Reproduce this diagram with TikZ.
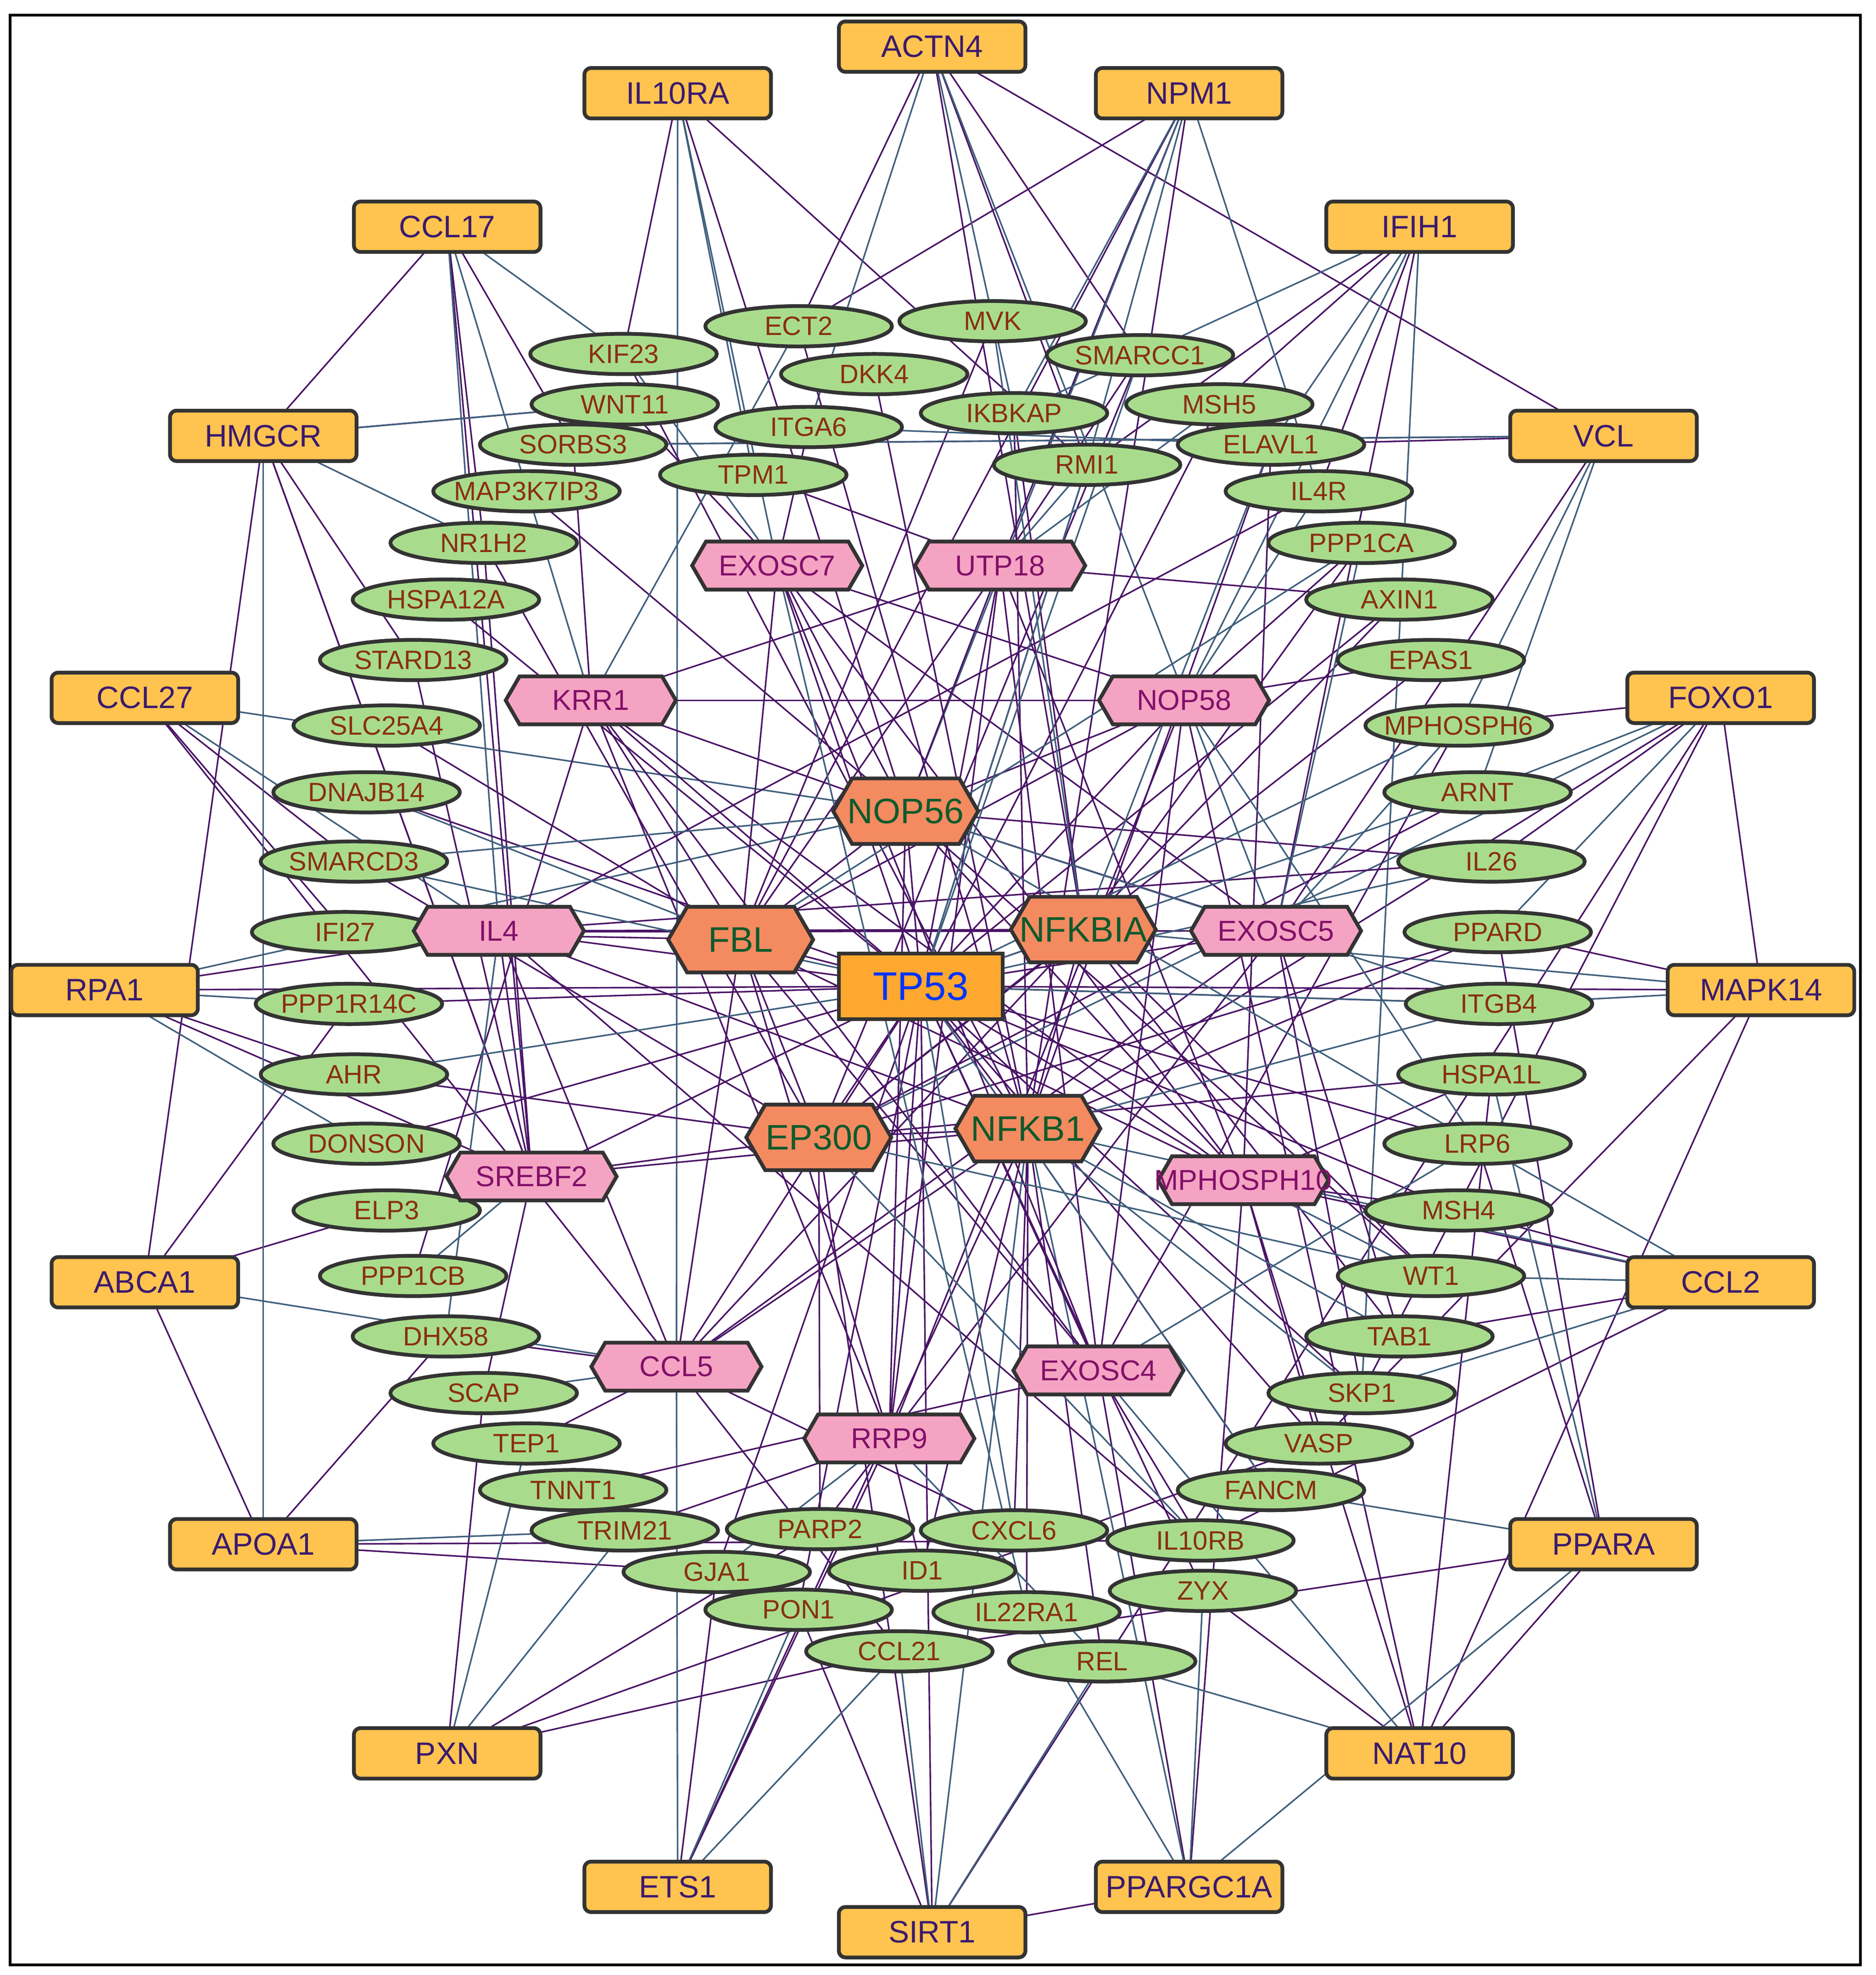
\documentclass[tikz,border=0pt]{standalone}
\usepackage{fontspec}
\setmainfont{Liberation Sans}
\usetikzlibrary{shapes.geometric,shapes.symbols}
\pgfdeclarelayer{bg}
\pgfsetlayers{bg,main}
\definecolor{boxfill}{HTML}{FFC34F}
\definecolor{greenfill}{HTML}{A8DC8C}
\definecolor{pinkfill}{HTML}{F5A3C2}
\definecolor{hubfill}{HTML}{F48A60}
\definecolor{edgepurple}{HTML}{4A1466}
\definecolor{edgeblue}{HTML}{3F5F7C}
\definecolor{boxtext}{HTML}{3A1A6E}
\definecolor{greentext}{HTML}{8A2E14}
\definecolor{pinktext}{HTML}{82106A}
\definecolor{hubtext}{HTML}{0F5A2C}
\tikzset{
  gene/.style={draw=black!80, line width=0.85pt, inner sep=0pt},
  outer/.style={gene, rectangle, rounded corners=1.5pt, fill=boxfill, minimum width=1.48cm, minimum height=0.4cm, text=boxtext, font=\fontsize{7}{7}\selectfont},
  mid/.style={gene, ellipse, fill=greenfill, minimum width=1.48cm, minimum height=0.32cm, text=greentext, font=\fontsize{6}{6}\selectfont},
  hex/.style={gene, signal, signal to=west and east, signal pointer angle=120, fill=pinkfill, minimum width=1.35cm, minimum height=0.38cm, text=pinktext, font=\fontsize{6.5}{6.5}\selectfont},
  hub/.style={gene, signal, signal to=west and east, signal pointer angle=120, fill=hubfill, minimum width=1.15cm, minimum height=0.52cm, text=hubtext, font=\fontsize{8}{8}\selectfont},
  lp/.style={edgepurple, line width=0.35pt},
  lb/.style={edgeblue, line width=0.35pt},
}
\begin{document}
\begin{tikzpicture}[x=0.01cm, y=-0.01cm]
\useasboundingbox (0,0) rectangle (1489,1568);
\draw[line width=0.6pt] (8,12) rectangle (1477,1560);
% outer ring
\foreach \n/\x/\y in {ACTN4/740/37, IL10RA/538/74, NPM1/944/74, CCL17/355/180, IFIH1/1127/180,
  HMGCR/209/346, VCL/1273/346, CCL27/115/554, FOXO1/1366/554, RPA1/83/786, MAPK14/1398/786,
  ABCA1/115/1018, CCL2/1366/1018, APOA1/209/1226, PPARA/1273/1226, PXN/355/1392, NAT10/1127/1392,
  ETS1/538/1498, PPARGC1A/944/1498, SIRT1/740/1534}
  \node[outer] (\n) at (\x,\y) {\n};
% ellipses
\foreach \n/\x/\y in {ECT2/634/259, MVK/788/255, KIF23/495/281, DKK4/694/297, SMARCC1/905/282,
  WNT11/496/321, IKBKAP/805/328, MSH5/968/321, ITGA6/642/339, SORBS3/455/353, ELAVL1/1009/353,
  TPM1/598/377, RMI1/863/369, MAP3K7IP3/418/390, IL4R/1047/390, NR1H2/384/431, PPP1CA/1081/431,
  HSPA12A/354/476, AXIN1/1111/476, STARD13/328/524, EPAS1/1136/524, SLC25A4/307/576,
  MPHOSPH6/1158/576, DNAJB14/291/629, ARNT/1173/629, SMARCD3/281/684, IL26/1184/684,
  IFI27/274/740, PPARD/1189/740, PPP1R14C/277/797, ITGB4/1190/797, AHR/281/853, HSPA1L/1184/853,
  DONSON/291/908, LRP6/1173/908, ELP3/307/961, MSH4/1158/961, PPP1CB/328/1013, WT1/1136/1013,
  DHX58/354/1061, TAB1/1111/1061, SCAP/384/1106, SKP1/1081/1106, TEP1/418/1146, VASP/1047/1146,
  TNNT1/455/1183, FANCM/1009/1183, TRIM21/496/1215, PARP2/651/1214, CXCL6/805/1215,
  IL10RB/953/1223, GJA1/569/1248, ID1/732/1247, PON1/634/1278, IL22RA1/815/1280, ZYX/955/1263,
  CCL21/714/1311, REL/875/1319}
  \node[mid] (\n) at (\x,\y) {\makebox[0pt]{\n}};
% hexagons
\foreach \n/\x/\y in {EXOSC7/617/449, UTP18/794/449, KRR1/469/556, NOP58/940/556, IL4/396/739,
  EXOSC5/1013/739, SREBF2/422/934, MPHOSPH10/987/937, CCL5/537/1085, EXOSC4/872/1088, RRP9/706/1142}
  \node[hex] (\n) at (\x,\y) {\makebox[0pt]{\n}};
\foreach \n/\x/\y in {NOP56/719/644, FBL/588/746, NFKBIA/860/738, EP300/650/903, NFKB1/816/896}
  \node[hub] (\n) at (\x,\y) {\makebox[0pt]{\n}};
\node[gene, rectangle, fill=boxfill!60!orange, minimum width=1.3cm, minimum height=0.52cm, text=blue!80!cyan, font=\fontsize{9}{9}\selectfont] (TP53) at (731,783) {TP53};
\begin{pgfonlayer}{bg}
% outer links
\foreach \a/\b in {ACTN4/ECT2, ACTN4/RMI1, ACTN4/SMARCC1, ACTN4/NFKBIA, IL10RA/KIF23, IL10RA/RMI1, IL10RA/NOP56,
  NPM1/ECT2, NPM1/UTP18, NPM1/NFKB1, NPM1/FBL, CCL17/HMGCR, CCL17/SORBS3, CCL17/NR1H2, CCL17/SREBF2,
  IFIH1/MSH5, IFIH1/RMI1, IFIH1/EXOSC5, IFIH1/IL4R, HMGCR/WNT11, HMGCR/ABCA1, HMGCR/SREBF2, HMGCR/STARD13,
  VCL/ELAVL1, VCL/SORBS3, VCL/EXOSC5, VCL/ACTN4, CCL27/SMARCD3, CCL27/IFI27, CCL27/CCL5,
  FOXO1/MPHOSPH6, FOXO1/IL26, FOXO1/MAPK14, FOXO1/NFKB1, FOXO1/SKP1, RPA1/TP53, RPA1/AHR, RPA1/SREBF2,
  RPA1/IL4, MAPK14/TP53, MAPK14/PPARD, MAPK14/VASP, MAPK14/NAT10, ABCA1/ELP3, ABCA1/APOA1, ABCA1/PPP1R14C,
  CCL2/MSH4, CCL2/IL10RB, CCL2/TAB1, CCL2/MPHOSPH10, APOA1/IL10RB, APOA1/DHX58, APOA1/GJA1,
  PPARA/LRP6, PPARA/PPARD, PPARA/CCL21, PPARA/NAT10, PXN/VASP, PXN/CCL21, PXN/SCAP, PXN/PARP2,
  NAT10/ZYX, NAT10/MPHOSPH10, NAT10/NOP58, NAT10/HSPA1L, ETS1/GJA1, ETS1/RRP9, ETS1/NFKB1,
  PPARGC1A/SIRT1, PPARGC1A/EXOSC4, PPARGC1A/MPHOSPH10, SIRT1/TP53, SIRT1/PON1, SIRT1/FOXO1, SIRT1/EP300}
  \draw[lp] (\a.center) -- (\b.center);
\foreach \a/\b in {ACTN4/IKBKAP, ACTN4/ITGA6, ACTN4/EXOSC5, IL10RA/TPM1, IL10RA/CCL5, IL10RA/EXOSC7,
  NPM1/RMI1, NPM1/IKBKAP, NPM1/IL4R, NPM1/NOP56, CCL17/KIF23, CCL17/KRR1, CCL17/IL4, IFIH1/ELAVL1,
  IFIH1/IKBKAP, IFIH1/SKP1, IFIH1/NOP58, HMGCR/NR1H2, HMGCR/APOA1, VCL/ARNT, VCL/MPHOSPH6,
  CCL27/IL4, CCL27/NOP56, FOXO1/ARNT, FOXO1/PPARD, FOXO1/EP300, RPA1/PPP1R14C, RPA1/DONSON, RPA1/NOP56,
  MAPK14/ITGB4, MAPK14/NFKBIA, ABCA1/CCL5, CCL2/WT1, CCL2/SKP1, CCL2/NFKB1, CCL2/LRP6, APOA1/TRIM21,
  PPARA/FANCM, PPARA/HSPA1L, PPARA/PPARGC1A, PXN/TEP1, PXN/TRIM21, NAT10/REL, NAT10/EXOSC4,
  ETS1/PON1, ETS1/CCL5, ETS1/CCL21, PPARGC1A/ZYX, PPARGC1A/IL22RA1, PPARGC1A/NFKB1, SIRT1/CCL21,
  SIRT1/REL, SIRT1/NFKB1}
  \draw[lb] (\a.center) -- (\b.center);
% inner links
\foreach \h in {NOP56, FBL, NFKBIA, EP300, NFKB1, EXOSC7, UTP18, KRR1, NOP58, IL4, EXOSC5, SREBF2,
  MPHOSPH10, CCL5, EXOSC4, RRP9}
  \draw[lp] (TP53.center) -- (\h.center);
\foreach \a/\b in {NOP56/EXOSC7, NOP56/UTP18, NOP56/KRR1, NOP56/NOP58, NOP56/FBL, NOP56/EXOSC5,
  NOP56/RRP9, NOP56/MPHOSPH10, FBL/EXOSC7, FBL/UTP18, FBL/KRR1, FBL/NOP58, FBL/EXOSC4, FBL/RRP9,
  FBL/MPHOSPH10, FBL/CCL5, KRR1/NOP58, KRR1/UTP18, KRR1/RRP9, KRR1/EXOSC4, NOP58/EXOSC7, NOP58/RRP9,
  NOP58/EXOSC4, UTP18/EXOSC4, UTP18/RRP9, EXOSC7/EXOSC4, EXOSC7/MPHOSPH10, EXOSC5/EXOSC7, EXOSC5/CCL5,
  MPHOSPH10/KRR1, MPHOSPH10/UTP18, RRP9/EXOSC5, NFKBIA/NFKB1, NFKBIA/IL4, NFKBIA/CCL5, NFKB1/EP300,
  NFKB1/IL4, NFKB1/SREBF2, NFKB1/CCL5, EP300/NFKBIA, EP300/SREBF2, EP300/FBL, IL4/SREBF2, IL4/CCL5}
  \draw[lp] (\a.center) -- (\b.center);
\foreach \a/\b in {NFKB1/ECT2, NFKB1/KIF23, NFKB1/DKK4, NFKB1/IKBKAP, NFKB1/ELAVL1, NFKB1/PPARD,
  NFKB1/CXCL6, NFKB1/REL, NFKB1/IL22RA1, NFKB1/ID1, NFKBIA/IKBKAP, NFKBIA/TAB1, NFKBIA/WT1, NFKBIA/AXIN1,
  NFKBIA/PPP1CA, EP300/EPAS1, EP300/ARNT, EP300/PPARD, EP300/HSPA1L, EP300/SMARCC1, EP300/SMARCD3,
  EP300/AHR, EP300/NR1H2, EP300/PARP2, TP53/MSH5, TP53/MSH4, TP53/SKP1, TP53/LRP6, TP53/ITGB4,
  TP53/AXIN1, TP53/RMI1, TP53/ZYX, TP53/HSPA12A, TP53/PPP1R14C, TP53/DONSON, TP53/GJA1, TP53/PON1,
  TP53/FANCM, TP53/VASP, TP53/DNAJB14, FBL/MVK, FBL/IFI27, FBL/SLC25A4, NOP56/WT1, NOP56/MAP3K7IP3,
  NOP56/IL26, SREBF2/SCAP, SREBF2/HMGCR, SREBF2/NR1H2, SREBF2/ELP3, SREBF2/STARD13, IL4/IL4R, IL4/IL10RB,
  IL4/IL26, CCL5/CCL21, CCL5/CXCL6, CCL5/DHX58, CCL5/TEP1, EXOSC4/MPHOSPH6, EXOSC4/TNNT1, EXOSC4/IL10RB,
  RRP9/TRIM21, RRP9/PARP2, RRP9/ID1, MPHOSPH10/MSH4, MPHOSPH10/HSPA1L, MPHOSPH10/ELAVL1, EXOSC7/WNT11,
  EXOSC7/ITGA6, UTP18/TPM1, UTP18/SMARCC1, UTP18/AXIN1, KRR1/SORBS3, KRR1/PPP1CB, NOP58/PPP1CA,
  NOP58/EPAS1, EXOSC5/SKP1, EXOSC5/TAB1, EXOSC5/IFI27, MPHOSPH10/VASP}
  \draw[lp] (\a.center) -- (\b.center);
\foreach \a/\b in {NFKB1/TAB1, NFKB1/SKP1, NFKB1/ITGB4, NFKBIA/ELAVL1, NFKBIA/MVK, EP300/WT1, EP300/IL10RB,
  TP53/SMARCC1, TP53/RMI1, TP53/MPHOSPH6, TP53/ARNT, TP53/IL26, TP53/ITGB4, TP53/AHR, TP53/SMARCD3,
  TP53/FANCM, TP53/CXCL6, FBL/PPP1CA, FBL/DNAJB14, NOP56/SMARCD3, NOP56/LRP6, NOP56/ITGB4, SREBF2/PPP1CB,
  IL4/IFI27, IL4/DHX58, CCL5/SCAP, EXOSC4/LRP6, RRP9/GJA1, RRP9/REL, MPHOSPH10/WT1, EXOSC7/KIF23,
  EXOSC7/IL22RA1, UTP18/RMI1, UTP18/MSH5, KRR1/ECT2, NOP58/IL4R, NOP58/LRP6, EXOSC5/PPP1CA, EXOSC5/MPHOSPH6,
  ITGA6/ELAVL1, SORBS3/VCL, HMGCR/WNT11}
  \draw[lb] (\a.center) -- (\b.center);
\end{pgfonlayer}
\end{tikzpicture}
\end{document}
